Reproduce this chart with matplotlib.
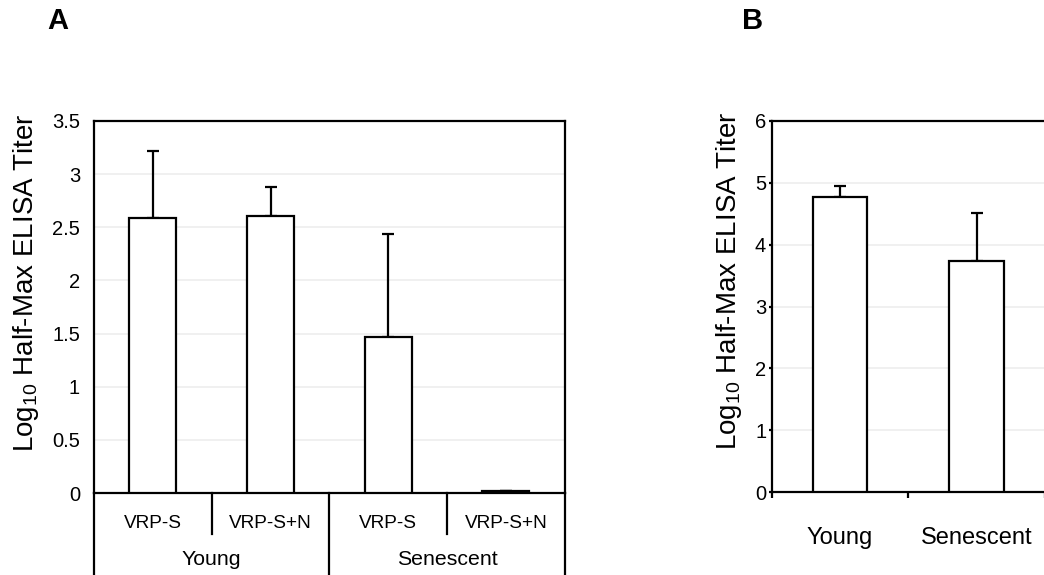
import matplotlib
matplotlib.use('Agg')
import matplotlib.pyplot as plt
import numpy as np

plt.rcParams['font.family'] = ['Liberation Sans', 'DejaVu Sans']
plt.rcParams['mathtext.default'] = 'regular'

# panel A data
a_groups = ['Young', 'Senescent']
a_labels = ['VRP-S', 'VRP-S+N', 'VRP-S', 'VRP-S+N']
a_vals = [2.59, 2.61, 1.47, 0.02]
a_err = [0.63, 0.27, 0.97, 0.0]
a_yticks = [0, 0.5, 1, 1.5, 2, 2.5, 3, 3.5]

# panel B data
b_labels = ['Young', 'Senescent']
b_vals = [4.77, 3.73]
b_err = [0.18, 0.78]
b_yticks = [0, 1, 2, 3, 4, 5, 6]

ylab = r'Log$_{10}$ Half-Max ELISA Titer'
lw = 1.6

fig = plt.figure(figsize=(10.44, 5.75), dpi=100)

# ---- A ----
ax = fig.add_axes([0.090, 0.1426, 0.451, 0.647])
x = np.arange(len(a_vals))
ax.bar(x, a_vals, width=0.4, color='white', edgecolor='black', linewidth=lw, zorder=3)
ax.errorbar(x, a_vals, yerr=[np.zeros(len(a_err)), a_err], fmt='none', ecolor='black',
            elinewidth=lw, capsize=4, capthick=lw, zorder=2)
ax.set_xlim(-0.5, 3.5)
ax.set_ylim(0, 3.5)
ax.set_yticks(a_yticks)
ax.set_yticklabels(['0', '0.5', '1', '1.5', '2', '2.5', '3', '3.5'], fontsize=14.5)
ax.yaxis.grid(True, color='#eeeeee', linewidth=1.2, zorder=0)
ax.set_axisbelow(True)
ax.tick_params(axis='y', length=0, pad=10)
ax.set_xticks([])
for s in ax.spines.values():
    s.set_linewidth(lw)
ax.set_ylabel(ylab, fontsize=20, labelpad=8)
ax.yaxis.label.set_y(0.565)

tr = ax.get_xaxis_transform()
for xv in [0.5, 2.5]:
    ax.plot([xv, xv], [0, -0.11], color='black', lw=lw, transform=tr, clip_on=False)
for xv in [-0.5, 1.5, 3.5]:
    ax.plot([xv, xv], [0, -0.23], color='black', lw=lw, transform=tr, clip_on=False)
for xv, lab in zip(x, a_labels):
    ax.text(xv, -0.081, lab, transform=tr, ha='center', va='center', fontsize=13.7)
for gi, g in enumerate(a_groups):
    ax.text(0.5 + 2 * gi, -0.18, g, transform=tr, ha='center', va='center', fontsize=15.3)

fig.text(58 / 1044, 1 - 21 / 575, 'A', fontsize=21, fontweight='bold', ha='center', va='center')

# ---- B ----
bx = fig.add_axes([0.7392, 0.1443, 0.2618, 0.6453])
xb = np.arange(len(b_vals))
bx.bar(xb, b_vals, width=0.4, color='white', edgecolor='black', linewidth=lw, zorder=3)
bx.errorbar(xb, b_vals, yerr=[np.zeros(len(b_err)), b_err], fmt='none', ecolor='black',
            elinewidth=lw, capsize=4, capthick=lw, zorder=2)
bx.set_xlim(-0.5, 1.5)
bx.set_ylim(0, 6)
bx.set_yticks(b_yticks)
bx.set_yticklabels([str(v) for v in b_yticks], fontsize=14.5)
bx.yaxis.grid(True, color='#eeeeee', linewidth=1.2, zorder=0)
bx.set_axisbelow(True)
bx.tick_params(axis='y', length=2, width=lw, pad=2)
bx.set_xticks([-0.5, 0.5, 1.5])
bx.set_xticklabels([])
bx.tick_params(axis='x', length=4, width=lw)
for s in bx.spines.values():
    s.set_linewidth(lw)
for xv, lab in zip(xb, b_labels):
    bx.text(xv, -0.125, lab, transform=bx.get_xaxis_transform(), ha='center', va='center', fontsize=17)
bx.set_ylabel(ylab, fontsize=20, labelpad=8)
bx.yaxis.label.set_y(0.569)

fig.text(753 / 1044, 1 - 21 / 575, 'B', fontsize=21, fontweight='bold', ha='center', va='center')

fig.savefig('out.png', dpi=100)
